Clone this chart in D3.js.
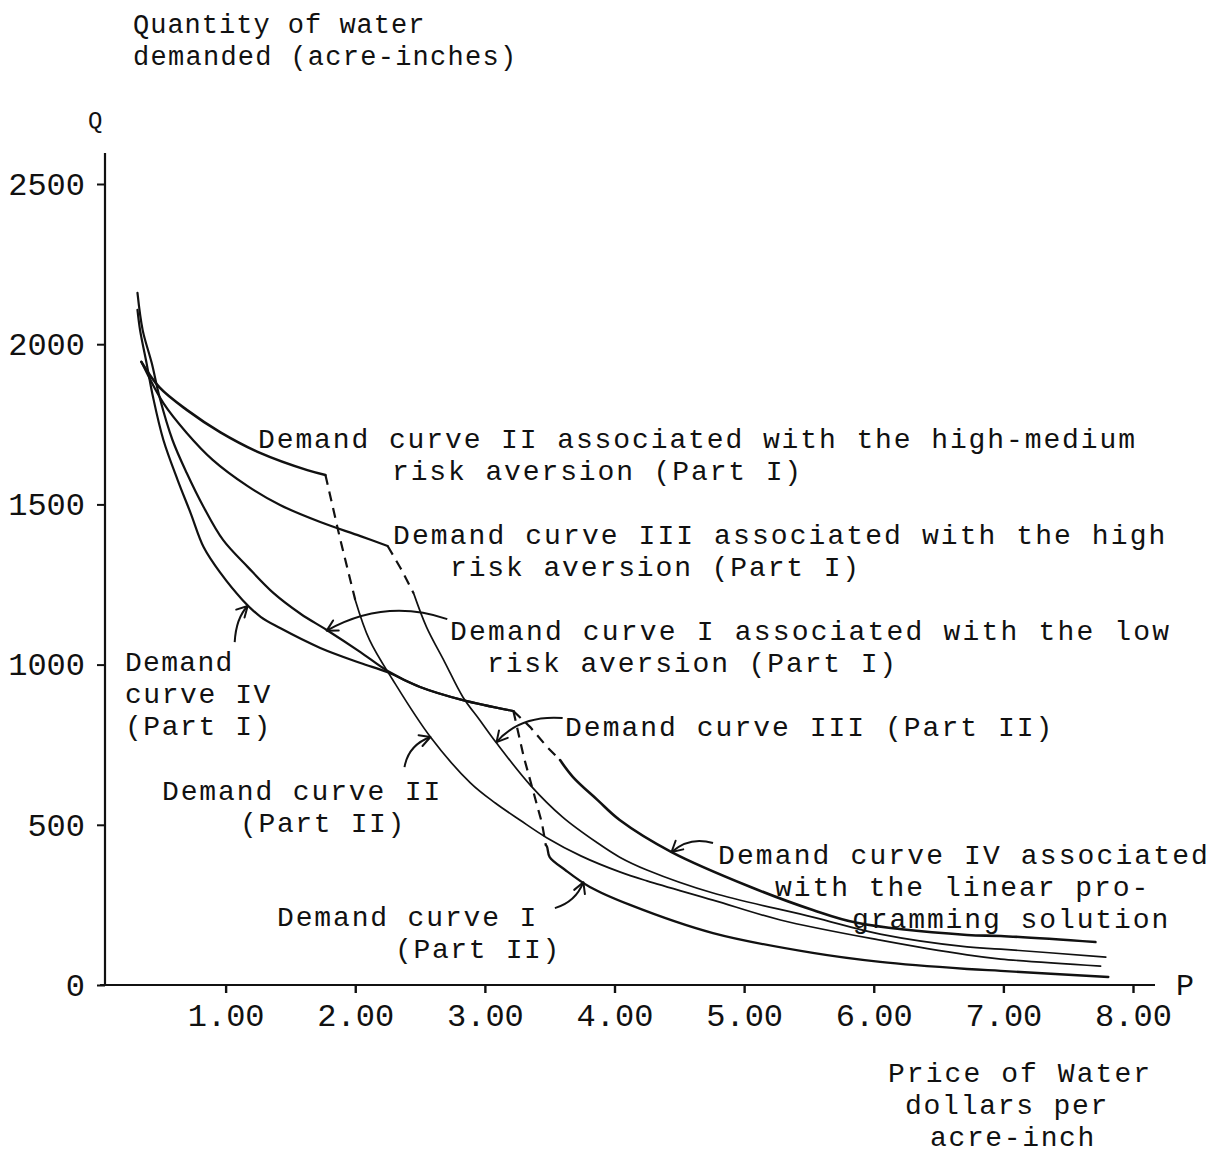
<!DOCTYPE html>
<html>
<head>
<meta charset="utf-8">
<script src="https://cdn.jsdelivr.net/npm/d3@7"></script>
<style>
  html, body { margin: 0; padding: 0; background: #fff; }
  svg text { font-family: "Liberation Mono", "Courier New", monospace; fill: #111; }
</style>
</head>
<body>
<svg id="chart" width="1223" height="1155"></svg>
<script>
// Price of water (dollars per acre-inch) and quantity demanded (acre-inches)

// Demand curve I, low risk aversion
const curveI_partI = [[0.32,2160],[0.36,2044],[0.43,1941],[0.49,1835],[0.59,1701],[0.70,1598],[0.83,1492],[0.98,1389],[1.17,1305],[1.37,1223],[1.58,1158],[1.78,1108],[2.04,1039],[2.25,980],[2.50,930],[2.83,889],[3.22,855]];
const curveI_jump = [[3.22,855],[3.30,712],[3.37,609],[3.44,506],[3.47,437]];
const curveI_partII = [[3.47,437],[3.48,431],[3.50,399],[3.62,359],[3.81,306],[4.12,250],[4.76,162],[5.53,100],[6.05,72],[6.72,50],[6.98,44],[7.81,25]];

// Demand curve II, high-medium risk aversion
const curveII_partI = [[0.35,1945],[0.49,1865],[0.70,1795],[0.96,1725],[1.27,1660],[1.63,1607],[1.77,1592]];
const curveII_jump = [[1.77,1592],[1.88,1398],[2.00,1202]];
const curveII_partII = [[2.00,1202],[2.11,1077],[2.29,952],[2.58,774],[2.89,630],[3.08,568],[3.27,515],[3.48,459],[3.74,403],[4.04,353],[4.25,325],[4.76,265],[5.28,203],[6.05,140],[6.72,94],[6.98,81],[7.75,59]];

// Demand curve III, high risk aversion
const curveIII_partI = [[0.35,1945],[0.52,1816],[0.70,1723],[0.90,1639],[1.17,1557],[1.42,1498],[1.73,1445],[2.04,1401],[2.25,1370]];
const curveIII_jump = [[2.25,1370],[2.35,1301],[2.45,1223]];
const curveIII_partII = [[2.45,1223],[2.55,1117],[2.69,1008],[2.83,899],[2.96,827],[3.09,755],[3.35,624],[3.60,524],[3.87,443],[4.04,399],[4.25,359],[4.76,287],[5.53,212],[6.05,159],[6.72,119],[6.98,112],[7.79,87]];

// Demand curve IV, linear programming solution
const curveIV_partI = [[0.32,2107],[0.34,2044],[0.39,1941],[0.44,1835],[0.52,1701],[0.63,1576],[0.73,1473],[0.83,1367],[0.96,1286],[1.13,1202],[1.27,1149],[1.42,1114],[1.73,1052],[2.04,1005],[2.25,976],[2.50,930],[2.83,889],[3.22,855]];
const curveIV_jump = [[3.22,855],[3.35,805],[3.48,743],[3.58,702]];
const curveIV_partII = [[3.58,702],[3.68,649],[3.87,577],[4.04,515],[4.44,415],[5.05,306],[5.53,234],[5.87,194],[6.72,156],[6.98,153],[7.71,134]];

// Axis ticks
const xTicks = [1, 2, 3, 4, 5, 6, 7, 8];
const xTickLabels = ["1.00", "2.00", "3.00", "4.00", "5.00", "6.00", "7.00", "8.00"];
const yTicks = [0, 500, 1000, 1500, 2000, 2500];

// Pointer arrows from the notes to the curves: [tail, bend, tip] in price/quantity units
const pointerArrows = [
  [[2.71,1142],[2.23,1208],[1.78,1106]],
  [[1.07,1070],[1.08,1145],[1.17,1183]],
  [[2.38,680],[2.41,749],[2.58,774]],
  [[3.60,833],[3.27,843],[3.09,758]],
  [[4.76,443],[4.58,465],[4.44,415]],
  [[3.54,240],[3.70,259],[3.76,321]]
];

const svg = d3.select("#chart");
svg.append("rect").attr("width", 1223).attr("height", 1155).attr("fill", "#fff");

const x = d3.scaleLinear().domain([0, 8]).range([96, 1133]);
const y = d3.scaleLinear().domain([0, 2500]).range([985, 184]);

const ink = "#111";
const axisLeftX = 105;

// Axes
const yAxis = d3.axisLeft(y).tickValues(yTicks).tickSize(8).tickPadding(12).tickFormat(d3.format("d"));
const gy = svg.append("g").attr("transform", `translate(${axisLeftX},0)`).call(yAxis);
gy.select(".domain").remove();
gy.selectAll(".tick line").attr("stroke", ink).attr("stroke-width", 2);
gy.selectAll(".tick text").attr("font-size", 32).attr("font-family", "Liberation Mono").attr("fill", ink);
svg.append("line").attr("x1", axisLeftX).attr("x2", axisLeftX)
  .attr("y1", 153).attr("y2", y(0) + 1).attr("stroke", ink).attr("stroke-width", 2.2);

const xAxis = d3.axisBottom(x).tickValues(xTicks).tickSize(8).tickPadding(10)
  .tickFormat((d, i) => xTickLabels[i]);
const gx = svg.append("g").attr("transform", `translate(0,${y(0)})`).call(xAxis);
gx.select(".domain").remove();
gx.selectAll(".tick line").attr("stroke", ink).attr("stroke-width", 2.4);
gx.selectAll(".tick text").attr("font-size", 32).attr("font-family", "Liberation Mono").attr("fill", ink);
svg.append("line").attr("x1", 100).attr("x2", 1155)
  .attr("y1", y(0)).attr("y2", y(0)).attr("stroke", ink).attr("stroke-width", 2.2);

// Curves
const smooth = d3.line().x(d => x(d[0])).y(d => y(d[1])).curve(d3.curveCatmullRom.alpha(0.5));
const straight = d3.line().x(d => x(d[0])).y(d => y(d[1]));

const solidSegments = [
  [curveII_partI, 2.6], [curveIII_partI, 2.2],
  [curveI_partI, 2.2], [curveIV_partI, 2.2],
  [curveII_partII, 1.7], [curveIII_partII, 1.7],
  [curveI_partII, 2.3], [curveIV_partII, 2.6]
];
solidSegments.forEach(([pts, w]) => {
  svg.append("path").attr("d", smooth(pts)).attr("fill", "none")
    .attr("stroke", ink).attr("stroke-width", w)
    .attr("stroke-linejoin", "round").attr("stroke-linecap", "round");
});

[curveI_jump, curveII_jump, curveIII_jump, curveIV_jump].forEach(pts => {
  svg.append("path").attr("d", straight(pts)).attr("fill", "none")
    .attr("stroke", ink).attr("stroke-width", 2.2).attr("stroke-dasharray", "10,7");
});

// Pointer arrows
pointerArrows.forEach(([t, c, h]) => {
  const T = [x(t[0]), y(t[1])], C = [x(c[0]), y(c[1])], H = [x(h[0]), y(h[1])];
  svg.append("path").attr("d", `M${T[0]},${T[1]} Q${C[0]},${C[1]} ${H[0]},${H[1]}`)
    .attr("fill", "none").attr("stroke", ink).attr("stroke-width", 2);
  const ang = Math.atan2(H[1] - C[1], H[0] - C[0]);
  const len = 12, spread = 0.5;
  const b1 = [H[0] - len * Math.cos(ang - spread), H[1] - len * Math.sin(ang - spread)];
  const b2 = [H[0] - len * Math.cos(ang + spread), H[1] - len * Math.sin(ang + spread)];
  svg.append("path").attr("d", `M${b1[0]},${b1[1]} L${H[0]},${H[1]} L${b2[0]},${b2[1]}`)
    .attr("fill", "none").attr("stroke", ink).attr("stroke-width", 2)
    .attr("stroke-linejoin", "round").attr("stroke-linecap", "round");
});

// Text: [content, x, baseline, font size, character pitch]
const notes = [
  ["Quantity of water", 133, 33, 27, 17.5],
  ["demanded (acre-inches)", 133, 65, 27, 17.7],
  ["Q", 88, 128, 24, 0],
  ["P", 1176, 995, 30, 0],
  ["Demand curve II associated with the high-medium", 258, 448, 28, 18.8],
  ["risk aversion (Part I)", 392, 480, 28, 18.9],
  ["Demand curve III associated with the high", 393, 544, 28, 19.0],
  ["risk aversion (Part I)", 450, 576, 28, 18.9],
  ["Demand curve I associated with the low", 450, 640, 28, 19.1],
  ["risk aversion (Part I)", 487, 672, 28, 18.9],
  ["Demand", 125, 671, 28, 19.0],
  ["curve IV", 125, 703, 28, 19.0],
  ["(Part I)", 125, 735, 28, 19.0],
  ["Demand curve III (Part II)", 565, 736, 28, 19.0],
  ["Demand curve II", 162, 800, 28, 19.0],
  ["(Part II)", 240, 832, 28, 19.0],
  ["Demand curve IV associated", 718, 864, 28, 19.1],
  ["with the linear pro-", 775, 896, 28, 19.0],
  ["gramming solution", 852, 928, 28, 19.0],
  ["Demand curve I", 277, 926, 28, 19.0],
  ["(Part II)", 395, 958, 28, 19.0],
  ["Price of Water", 888, 1082, 28, 19.2],
  ["dollars per", 905, 1114, 28, 19.0],
  ["acre-inch", 930, 1146, 28, 19.0]
];
const texts = svg.selectAll("text.note").data(notes).enter().append("text")
  .attr("class", "note")
  .attr("x", d => d[1]).attr("y", d => d[2])
  .attr("font-size", d => d[3])
  .attr("xml:space", "preserve")
  .text(d => d[0]);
texts.filter(d => d[4] > 0)
  .attr("textLength", d => (d[0].length - 0.35) * d[4])
  .attr("lengthAdjust", "spacing");
</script>
</body>
</html>
